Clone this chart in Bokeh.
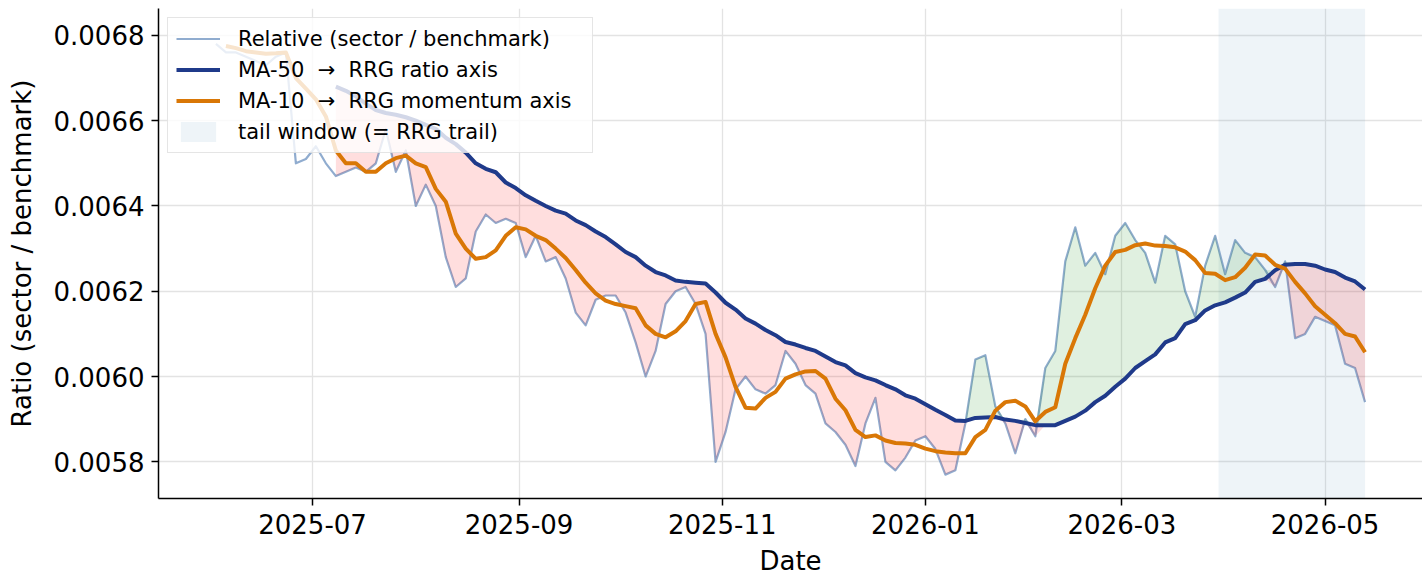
import numpy as np
import pandas as pd
from bokeh.plotting import figure
from bokeh.models import (Range1d, DatetimeTickFormatter, MonthsTicker, FixedTicker,
                          NumeralTickFormatter, Legend, LegendItem, ColumnDataSource)
from bokeh.embed import file_html
from bokeh.resources import INLINE

nan = float("nan")

# ---------------- data ----------------
start_date = "2025-06-02"
end_date = "2026-05-13"
dates = pd.date_range(start_date, end_date, freq="3D")   # 116 sample dates

relative = [
    0.00678, 0.00676, 0.00676, 0.00675, 0.00674, 0.00673, 0.00675, 0.00676, 0.00650, 0.00651,
    0.00654, 0.00650, 0.00647, 0.00648, 0.00649, 0.00648, 0.00650, 0.00658, 0.00648, 0.00653,
    0.00640, 0.00645, 0.00640, 0.00628, 0.00621, 0.00623, 0.00634, 0.00638, 0.00636, 0.00637,
    0.00636, 0.00628, 0.00633, 0.00627, 0.00628, 0.00623, 0.00615, 0.00612, 0.00618, 0.00619,
    0.00619, 0.00615, 0.00608, 0.00600, 0.00606, 0.00617, 0.00620, 0.00621, 0.00617, 0.00610,
    0.00580, 0.00587, 0.00597, 0.00600, 0.00597, 0.00596, 0.00598, 0.00606, 0.00603, 0.00598,
    0.00596, 0.00589, 0.00587, 0.00584, 0.00579, 0.00589, 0.00595, 0.00580, 0.00578, 0.00581,
    0.00585, 0.00586, 0.00583, 0.00577, 0.00578, 0.00589, 0.00604, 0.00605, 0.00593, 0.00589,
    0.00582, 0.00590, 0.00586, 0.00602, 0.00606, 0.00627, 0.00635, 0.00626, 0.00629, 0.00624,
    0.00633, 0.00636, 0.00632, 0.00629, 0.00622, 0.00633, 0.00631, 0.00620, 0.00614, 0.00626,
    0.00633, 0.00624, 0.00632, 0.00629, 0.00628, 0.00625, 0.00621, 0.00627, 0.00609, 0.00610,
    0.00614, 0.00613, 0.00612, 0.00603, 0.00602, 0.00594,
]

ma10 = [
    nan, 0.006775, 0.006770, 0.006763, 0.006760, 0.006757, 0.006758, 0.006760, 0.006700, 0.006675,
    0.006650, 0.006610, 0.006530, 0.006500, 0.006500, 0.006480, 0.006480, 0.006500, 0.006512, 0.006518,
    0.006500, 0.006491, 0.006440, 0.006410, 0.006335, 0.006300, 0.006276, 0.006280, 0.006296, 0.006330,
    0.006350, 0.006345, 0.006330, 0.006320, 0.006300, 0.006278, 0.006250, 0.006220, 0.006195, 0.006178,
    0.006170, 0.006165, 0.006160, 0.006120, 0.006100, 0.006092, 0.006106, 0.006130, 0.006170, 0.006175,
    0.006100, 0.006045, 0.005976, 0.005927, 0.005925, 0.005950, 0.005964, 0.005995, 0.006005, 0.006012,
    0.006013, 0.005995, 0.005948, 0.005921, 0.005875, 0.005858, 0.005862, 0.005850, 0.005844, 0.005843,
    0.005840, 0.005831, 0.005825, 0.005822, 0.005820, 0.005820, 0.005858, 0.005875, 0.005920, 0.005940,
    0.005943, 0.005930, 0.005895, 0.005917, 0.005928, 0.006030, 0.006090, 0.006145, 0.006207, 0.006260,
    0.006292, 0.006297, 0.006308, 0.006312, 0.006307, 0.006306, 0.006303, 0.006293, 0.006273, 0.006243,
    0.006241, 0.006226, 0.006233, 0.006255, 0.006286, 0.006284, 0.006262, 0.006253, 0.006222, 0.006195,
    0.006165, 0.006145, 0.006125, 0.006100, 0.006094, 0.006057,
]

ma50 = [nan] * 12 + [
    0.006680, 0.006670, 0.006657, 0.006640, 0.006625, 0.006618, 0.006614, 0.006608,
    0.006600, 0.006590, 0.006581, 0.006560, 0.006545, 0.006525, 0.006500, 0.006487, 0.006479, 0.006455,
    0.006442, 0.006425, 0.006412, 0.006400, 0.006389, 0.006382, 0.006366, 0.006355, 0.006340, 0.006327,
    0.006310, 0.006292, 0.006280, 0.006260, 0.006245, 0.006237, 0.006225, 0.006222, 0.006220, 0.006218,
    0.006197, 0.006173, 0.006157, 0.006136, 0.006124, 0.006109, 0.006097, 0.006081, 0.006075, 0.006067,
    0.006060, 0.006047, 0.006034, 0.006026, 0.006008, 0.005998, 0.005991, 0.005980, 0.005970, 0.005956,
    0.005948, 0.005935, 0.005922, 0.005910, 0.005897, 0.005896, 0.005903, 0.005904, 0.005905, 0.005899,
    0.005896, 0.005891, 0.005886, 0.005886, 0.005886, 0.005896, 0.005906, 0.005920, 0.005940, 0.005955,
    0.005976, 0.005995, 0.006020, 0.006036, 0.006052, 0.006080, 0.006090, 0.006123, 0.006132, 0.006155,
    0.006167, 0.006174, 0.006185, 0.006197, 0.006222, 0.006229, 0.006249, 0.006262, 0.006264, 0.006264,
    0.006260, 0.006251, 0.006245, 0.006232, 0.006223, 0.006204,
]

tail_start = "2026-03-30"
y_ticks = [0.0058, 0.0060, 0.0062, 0.0064, 0.0066, 0.0068]
y_limits = (0.005714, 0.006863)

# ---------------- figure ----------------
FONT = "DejaVu Sans"
rel = np.array(relative, dtype=float)
m10 = np.array(ma10, dtype=float)
m50 = np.array(ma50, dtype=float)

span = dates[-1] - dates[0]
x_range = Range1d(dates[0] - 0.05 * span, dates[-1] + 0.05 * span)
y_range = Range1d(*y_limits)

p = figure(width=1422, height=578, x_axis_type="datetime",
           x_range=x_range, y_range=y_range,
           output_backend="svg", toolbar_location=None,
           min_border_left=158, min_border_right=0, min_border_top=8, min_border_bottom=80)
p.outline_line_color = None
p.background_fill_color = "white"
p.border_fill_color = "white"

# tail window shading
r_tail = p.quad(left=[pd.Timestamp(tail_start)], right=[dates[-1]],
                bottom=[y_limits[0]], top=[y_limits[1]],
                fill_color="steelblue", fill_alpha=0.09, line_color=None)

src = ColumnDataSource(dict(date=dates, rel=rel, m10=m10, m50=m50))
r_rel = p.line("date", "rel", source=src, line_color="#5b84b8", line_alpha=0.68,
               line_width=2.2, line_join="round")

# fills between relative and MA-50
valid = ~np.isnan(m50)
fill_src = ColumnDataSource(dict(
    date=dates[valid],
    lo_red=np.minimum(rel[valid], m50[valid]),
    hi_red=m50[valid],
    lo_green=m50[valid],
    hi_green=np.maximum(rel[valid], m50[valid]),
))
p.varea(x="date", y1="lo_red", y2="hi_red", source=fill_src, fill_color="#ff0000", fill_alpha=0.13)
p.varea(x="date", y1="lo_green", y2="hi_green", source=fill_src, fill_color="#008000", fill_alpha=0.12)

r50 = p.line("date", "m50", source=src, line_color="#1f3a8a", line_width=4, line_join="round")
r10 = p.line("date", "m10", source=src, line_color="#d97706", line_width=4, line_join="round")

# axes
p.xaxis.ticker = MonthsTicker(months=[0, 2, 4, 6, 8, 10])
p.xaxis.formatter = DatetimeTickFormatter(days="%Y-%m", months="%Y-%m", years="%Y-%m")
p.yaxis.ticker = FixedTicker(ticks=y_ticks)
p.yaxis.formatter = NumeralTickFormatter(format="0.0000")
p.xaxis.axis_label = "Date"
p.yaxis.axis_label = "Ratio (sector / benchmark)"

for ax in (p.xaxis[0], p.yaxis[0]):
    ax.axis_line_width = 1.5
    ax.axis_line_color = "black"
    ax.major_tick_line_width = 1.5
    ax.major_tick_line_color = "black"
    ax.major_tick_out = 7
    ax.major_tick_in = 0
    ax.minor_tick_line_color = None
    ax.major_label_text_font = FONT
    ax.major_label_text_font_size = "26px"
    ax.major_label_text_color = "black"
    ax.axis_label_text_font = FONT
    ax.axis_label_text_font_size = "26px"
    ax.axis_label_text_font_style = "normal"
    ax.axis_label_text_color = "black"

p.xaxis.major_label_standoff = 8
p.xaxis.axis_label_standoff = 9
p.yaxis.major_label_standoff = 7
p.yaxis.axis_label_standoff = 14

p.xgrid.grid_line_color = "#e3e3e3"
p.ygrid.grid_line_color = "#e3e3e3"
p.xgrid.grid_line_width = 1.3
p.ygrid.grid_line_width = 1.3

legend = Legend(items=[
    LegendItem(label="Relative (sector / benchmark)", renderers=[r_rel]),
    LegendItem(label="MA-50\u00a0 →\u00a0 RRG ratio axis", renderers=[r50]),
    LegendItem(label="MA-10\u00a0 →\u00a0 RRG momentum axis", renderers=[r10]),
    LegendItem(label="tail window (= RRG trail)", renderers=[r_tail]),
], location="top_left")
legend.label_text_font = FONT
legend.label_text_font_size = "21px"
legend.label_text_color = "black"
legend.glyph_width = 44
legend.glyph_height = 25
legend.label_height = 25
legend.label_width = 346
legend.spacing = 6
legend.padding = 8
legend.margin = 9
legend.label_standoff = 18
legend.border_line_color = "#cccccc"
legend.border_line_width = 1.5
legend.background_fill_color = "white"
legend.background_fill_alpha = 0.8
p.add_layout(legend)

open("out.html", "w").write(file_html(p, INLINE))
